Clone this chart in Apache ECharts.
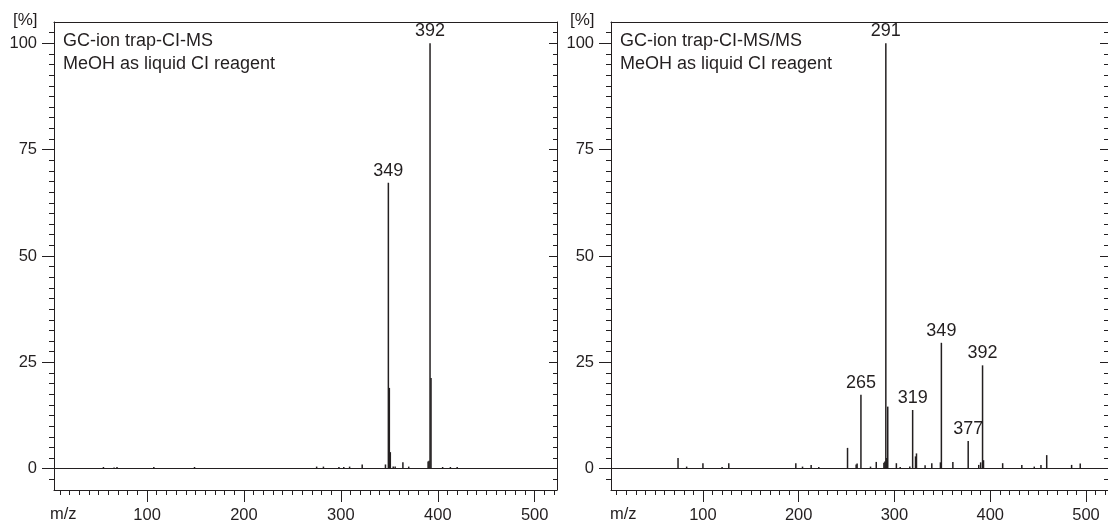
<!DOCTYPE html>
<html>
<head>
<meta charset="utf-8">
<script src="https://cdn.jsdelivr.net/npm/echarts@6/dist/echarts.min.js"></script>
<style>
  html, body { margin: 0; padding: 0; background: #fff; }
  #ms-spectra { width: 1108px; height: 524px; }
</style>
</head>
<body>
<div id="ms-spectra"></div>
<script>
// GC-ion trap CI mass spectra, MS (left) and MS/MS (right)
const leftMz = [55, 66, 69, 107, 149, 275, 282, 298, 303, 309, 322, 346, 349, 350, 351, 354, 356, 364, 370, 390, 391, 392, 393, 405, 413, 420];
const leftInt = [0.4, 0.3, 0.4, 0.4, 0.4, 0.5, 0.5, 0.4, 0.4, 0.5, 1.0, 1.0, 67.2, 19, 3.9, 0.5, 0.5, 1.5, 0.5, 1.7, 1.9, 100, 21.3, 0.4, 0.4, 0.4];
const leftLabelled = [349, 392];

const rightMz = [74, 83, 100, 120, 127, 197, 204, 213, 221, 251, 260, 261, 265, 275, 281, 289, 290, 291, 292, 293, 302, 306, 316, 319, 322, 323, 332, 339, 348, 349, 361, 377, 388, 390, 392, 393, 413, 433, 446, 453, 459, 485, 494];
const rightInt = [2.5, 0.5, 1.3, 0.4, 1.3, 1.3, 0.5, 0.9, 0.4, 4.9, 1.0, 1.2, 17.4, 0.5, 1.6, 1.4, 1.7, 100, 2.5, 14.6, 1.3, 0.4, 0.5, 13.8, 2.9, 3.6, 0.8, 1.3, 1.5, 29.6, 1.6, 6.5, 0.9, 1.5, 24.3, 2.0, 1.3, 0.9, 0.5, 0.9, 3.2, 0.9, 1.2];
const rightLabelled = [265, 291, 319, 349, 377, 392];

const xMajor = [100, 200, 300, 400, 500];
const yMajor = [0, 25, 50, 75, 100];
const xMinor = [];
for (let v = 10; v <= 520; v += 10) xMinor.push(v);
const yMinor = [];
for (let v = -2.5; v <= 102.5; v += 2.5) yMinor.push(v);

const ink = "#231f20";
const font = "Liberation Sans, Arial, sans-serif";

const grids = [];
const xAxes = [];
const yAxes = [];
const series = [];

function addPanel(left, mz, ints, labelled) {
  const g = grids.length;
  grids.push({ left: left, top: 22, width: 503, height: 468 });

  const xBase = { gridIndex: g, type: "value", min: 4, max: 523, splitLine: { show: false } };
  const line = { show: true, onZero: false, lineStyle: { color: ink, width: 1 } };
  const noLine = { show: false, onZero: false };
  const xi = xAxes.length;
  xAxes.push(Object.assign({}, xBase, {
    position: "bottom", axisLine: line,
    axisTick: { customValues: xMajor, length: 12, lineStyle: { color: ink } },
    axisLabel: { customValues: xMajor, fontSize: 16.5, fontFamily: font, color: ink, margin: 17 }
  }));
  xAxes.push(Object.assign({}, xBase, {
    position: "bottom", axisLine: noLine,
    axisTick: { customValues: xMinor, length: 5, lineStyle: { color: ink } },
    axisLabel: { show: false }
  }));
  xAxes.push(Object.assign({}, xBase, {
    position: "top", axisLine: line, axisTick: { show: false }, axisLabel: { show: false }
  }));

  const yBase = { gridIndex: g, type: "value", min: -5, max: 105, splitLine: { show: false } };
  const yi = yAxes.length;
  yAxes.push(Object.assign({}, yBase, {
    position: "left", axisLine: line,
    axisTick: { customValues: yMajor, length: 12, lineStyle: { color: ink } },
    axisLabel: { customValues: yMajor, fontSize: 16.5, fontFamily: font, color: ink, margin: 17 }
  }));
  yAxes.push(Object.assign({}, yBase, {
    position: "left", axisLine: noLine,
    axisTick: { customValues: yMinor, length: 5, lineStyle: { color: ink } },
    axisLabel: { show: false }
  }));
  yAxes.push(Object.assign({}, yBase, {
    position: "right", axisLine: line,
    axisTick: { customValues: yMajor, inside: true, length: 8, lineStyle: { color: ink } },
    axisLabel: { show: false }
  }));
  yAxes.push(Object.assign({}, yBase, {
    position: "right", axisLine: noLine,
    axisTick: { customValues: yMinor, inside: true, length: 4, lineStyle: { color: ink } },
    axisLabel: { show: false }
  }));

  const data = mz.map((m, i) => {
    const item = { value: [m, ints[i]] };
    if (labelled.includes(m)) item.label = { show: true };
    return item;
  });

  series.push({
    type: "bar",
    xAxisIndex: xi,
    yAxisIndex: yi,
    data: data,
    barWidth: 1.5,
    itemStyle: { color: ink },
    label: {
      show: false,
      position: "top",
      distance: 3,
      fontSize: 18,
      fontFamily: font,
      color: ink,
      formatter: (p) => p.value[0]
    },
    markLine: {
      silent: true,
      symbol: ["none", "none"],
      label: { show: false },
      lineStyle: { color: ink, width: 1, type: "solid" },
      data: [{ yAxis: 0 }]
    }
  });
}

addPanel(54, leftMz, leftInt, leftLabelled);
addPanel(611, rightMz, rightInt, rightLabelled);

function txt(x, y, text, size, lh) {
  return {
    type: "text", left: x, top: y,
    style: { text: text, font: size + "px " + font, fill: ink, lineHeight: lh || size }
  };
}

const option = {
  animation: false,
  grid: grids,
  xAxis: xAxes,
  yAxis: yAxes,
  series: series,
  graphic: [
    txt(13, 12, "[%]", 17),
    txt(570, 12, "[%]", 17),
    txt(63, 30, "GC-ion trap-CI-MS\nMeOH as liquid CI reagent", 18, 22.5),
    txt(620, 30, "GC-ion trap-CI-MS/MS\nMeOH as liquid CI reagent", 18, 22.5),
    txt(50, 506, "m/z", 16.5),
    txt(610, 506, "m/z", 16.5)
  ]
};

const chart = echarts.init(document.getElementById("ms-spectra"));
chart.setOption(option);
window.addEventListener("resize", () => chart.resize());
</script>
</body>
</html>
